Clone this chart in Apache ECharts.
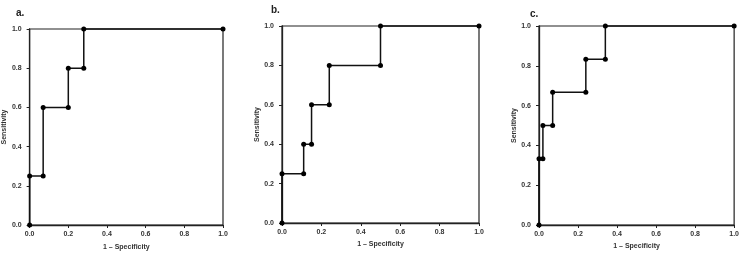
<!DOCTYPE html>
<html>
<head>
<meta charset="utf-8">
<script src="https://cdn.jsdelivr.net/npm/echarts@6/dist/echarts.min.js"></script>
<style>
  html, body { margin: 0; padding: 0; background: #fff; }
  #chart { width: 742px; height: 256px; }
</style>
</head>
<body>
<div id="chart"></div>
<script>
// ROC corner points (1 - specificity, sensitivity)
const panelLabels = ['a.', 'b.', 'c.']
const fprA = [0, 0, 0.07, 0.07, 0.2, 0.2, 0.28, 0.28, 1]
const tprA = [0, 0.25, 0.25, 0.6, 0.6, 0.8, 0.8, 1, 1]
const fprB = [0, 0, 0.11, 0.11, 0.15, 0.15, 0.24, 0.24, 0.5, 0.5, 1]
const tprB = [0, 0.25, 0.25, 0.4, 0.4, 0.6, 0.6, 0.8, 0.8, 1, 1]
const fprC = [0, 0, 0.02, 0.02, 0.07, 0.07, 0.24, 0.24, 0.34, 0.34, 1]
const tprC = [0, 0.333, 0.333, 0.5, 0.5, 0.667, 0.667, 0.833, 0.833, 1, 1]
const tickLabels = ['0.0', '0.2', '0.4', '0.6', '0.8', '1.0']
const xName = '1 – Specificity'
const yName = 'Sensitivity'

const FONT = 'Liberation Sans'
const INK = '#222'

// panel boxes (left, top, width, height) and title positions
const boxes = [
  { left: 26, top: 29, width: 197, height: 196, tx: 11, ty: 3, xGap: 19 },
  { left: 282, top: 26, width: 197, height: 197, tx: 266, ty: 0, xGap: 13 },
  { left: 539, top: 26, width: 197, height: 199, tx: 525, ty: 4, xGap: 12 }
]
const series = [[fprA, tprA], [fprB, tprB], [fprC, tprC]]

const fmt = v => tickLabels[Math.round(v * 5)] ?? v.toFixed(1)

const axisCommon = {
  min: 0,
  max: 1,
  interval: 0.2,
  splitLine: { show: false },
  axisLine: { show: true, lineStyle: { color: INK, width: 1.3 } },
  axisTick: { show: true, length: 3, lineStyle: { color: INK } },
  axisLabel: { fontSize: 7, fontWeight: 'bold', color: '#333', fontFamily: FONT, formatter: fmt },
  nameLocation: 'middle',
  nameTextStyle: { fontSize: 7, fontWeight: 'bold', color: '#333', fontFamily: FONT }
}

const chart = echarts.init(document.getElementById('chart'), null, { renderer: 'canvas' })

chart.setOption({
  animation: false,
  backgroundColor: '#fff',
  title: boxes.map((b, i) => ({
    text: panelLabels[i],
    left: b.tx,
    top: b.ty,
    textStyle: { fontSize: 10, fontWeight: 'bold', color: '#222', fontFamily: FONT }
  })),
  grid: boxes.map(b => ({
    left: b.left, top: b.top, width: b.width, height: b.height,
    show: true, borderColor: INK, borderWidth: 1.2
  })),
  xAxis: boxes.map((b, i) => ({
    ...axisCommon,
    type: 'value',
    gridIndex: i,
    name: xName,
    nameGap: b.xGap,
    axisLabel: { ...axisCommon.axisLabel, margin: 6 }
  })),
  yAxis: boxes.map((b, i) => ({
    ...axisCommon,
    type: 'value',
    gridIndex: i,
    name: yName,
    nameGap: 18,
    axisLabel: { ...axisCommon.axisLabel, margin: 8 }
  })),
  series: series.map(([xs, ys], i) => ({
    type: 'line',
    xAxisIndex: i,
    yAxisIndex: i,
    data: xs.map((x, k) => [x, ys[k]]),
    symbol: 'circle',
    symbolSize: 5,
    showAllSymbol: true,
    clip: false,
    lineStyle: { color: '#111', width: 1.5 },
    itemStyle: { color: '#000' }
  }))
})
</script>
</body>
</html>
